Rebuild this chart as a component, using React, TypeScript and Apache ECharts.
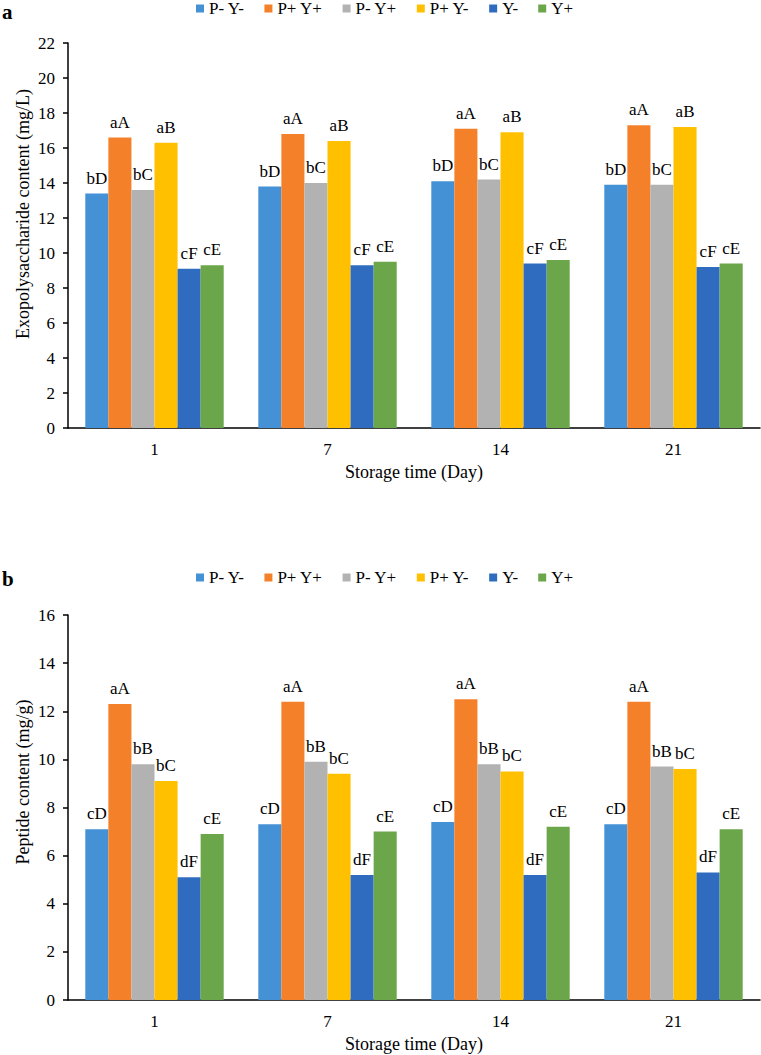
import React, { useEffect, useRef } from "react";
import * as echarts from "echarts";

const days = ["1", "7", "14", "21"];
const seriesNames = ["P- Y-", "P+ Y+", "P- Y+", "P+ Y-", "Y-", "Y+"];
const colors = ["#4591D5", "#F5802A", "#B2B2B2", "#FFC000", "#2F6CC0", "#6BA64A"];

// Panel a: Exopolysaccharide content (mg/L)
const epsPmYm = [13.4, 13.8, 14.1, 13.9];
const epsPpYp = [16.6, 16.8, 17.1, 17.3];
const epsPmYp = [13.6, 14.0, 14.2, 13.9];
const epsPpYm = [16.3, 16.4, 16.9, 17.2];
const epsYm = [9.1, 9.3, 9.4, 9.2];
const epsYp = [9.3, 9.5, 9.6, 9.4];
const epsLetters = ["bD", "aA", "bC", "aB", "cF", "cE"];

// Panel b: Peptide content (mg/g)
const pepPmYm = [7.1, 7.3, 7.4, 7.3];
const pepPpYp = [12.3, 12.4, 12.5, 12.4];
const pepPmYp = [9.8, 9.9, 9.8, 9.7];
const pepPpYm = [9.1, 9.4, 9.5, 9.6];
const pepYm = [5.1, 5.2, 5.2, 5.3];
const pepYp = [6.9, 7.0, 7.2, 7.1];
const pepLetters = ["cD", "aA", "bB", "bC", "dF", "cE"];

const epsTicks = { min: 0, max: 22, interval: 2 };
const pepTicks = { min: 0, max: 16, interval: 2 };

const FONT = "'Liberation Serif', 'Times New Roman', serif";

export default function App() {
  const ref = useRef<HTMLDivElement>(null);
  useEffect(() => {
    if (!ref.current) return;
    const chart = echarts.init(ref.current, undefined, { renderer: "svg" });
    const epsData = [epsPmYm, epsPpYp, epsPmYp, epsPpYm, epsYm, epsYp];
    const pepData = [pepPmYm, pepPpYp, pepPmYp, pepPpYm, pepYm, pepYp];

    const makeSeries = (data: number[][], letters: string[], idx: number) =>
      data.map((vals, i) => ({
        name: seriesNames[i],
        type: "bar",
        xAxisIndex: idx,
        yAxisIndex: idx,
        data: vals,
        barGap: "0%",
        barCategoryGap: "20%",
        itemStyle: { color: colors[i] },
        label: {
          show: true,
          position: "top",
          distance: 7,
          formatter: () => letters[i],
          fontFamily: FONT,
          fontSize: 17,
          color: "#000",
        },
      }));

    const axisCommonX = (idx: number) => ({
      type: "category",
      gridIndex: idx,
      data: days,
      axisLine: { lineStyle: { color: "#000", width: 1.5 } },
      axisTick: { show: false },
      axisLabel: { fontFamily: FONT, fontSize: 17, color: "#000", margin: 13 },
      name: "Storage time (Day)",
      nameLocation: "middle",
      nameGap: 35,
      nameTextStyle: { fontFamily: FONT, fontSize: 18, color: "#000" },
    });
    const axisCommonY = (idx: number, t: { min: number; max: number; interval: number }) => ({
      type: "value",
      gridIndex: idx,
      min: t.min,
      max: t.max,
      interval: t.interval,
      axisLine: { show: true, lineStyle: { color: "#000", width: 1.5 } },
      axisTick: { show: true, length: 5, lineStyle: { color: "#000", width: 1.5 } },
      splitLine: { show: false },
      axisLabel: { fontFamily: FONT, fontSize: 17, color: "#000", margin: 13 },
    });

    const legendCommon = {
      data: seriesNames,
      left: 196,
      padding: 0,
      icon: "rect",
      itemWidth: 8,
      itemHeight: 8,
      itemGap: 20,
      textStyle: { fontFamily: FONT, fontSize: 17, color: "#000" },
      selectedMode: false,
    };

    chart.setOption({
      animation: false,
      backgroundColor: "#fff",
      grid: [
        { left: 68, right: 1, top: 43, height: 385 },
        { left: 68, right: 1, top: 615, height: 385 },
      ],
      legend: [
        { ...legendCommon, top: 0 },
        { ...legendCommon, top: 569 },
      ],
      xAxis: [axisCommonX(0), axisCommonX(1)],
      yAxis: [axisCommonY(0, epsTicks), axisCommonY(1, pepTicks)],
      graphic: [
        {
          type: "text",
          left: 2,
          top: 1,
          style: { text: "a", fontFamily: FONT, fontSize: 21, fontWeight: "bold", fill: "#000" },
        },
        {
          type: "text",
          left: 2,
          top: 568,
          style: { text: "b", fontFamily: FONT, fontSize: 21, fontWeight: "bold", fill: "#000" },
        },
        {
          type: "text",
          x: 23,
          y: 214,
          rotation: Math.PI / 2,
          style: {
            text: "Exopolysaccharide content (mg/L)",
            fontFamily: FONT,
            fontSize: 18,
            fill: "#000",
            align: "center",
            verticalAlign: "middle",
          },
        },
        {
          type: "text",
          x: 23,
          y: 782,
          rotation: Math.PI / 2,
          style: {
            text: "Peptide content (mg/g)",
            fontFamily: FONT,
            fontSize: 18,
            fill: "#000",
            align: "center",
            verticalAlign: "middle",
          },
        },
      ],
      series: [...makeSeries(epsData, epsLetters, 0), ...makeSeries(pepData, pepLetters, 1)],
    });
    return () => chart.dispose();
  }, []);
  return (
    <div
      ref={ref}
      style={{ position: "absolute", left: 0, top: 0, width: 761, height: 1055 }}
    />
  );
}
